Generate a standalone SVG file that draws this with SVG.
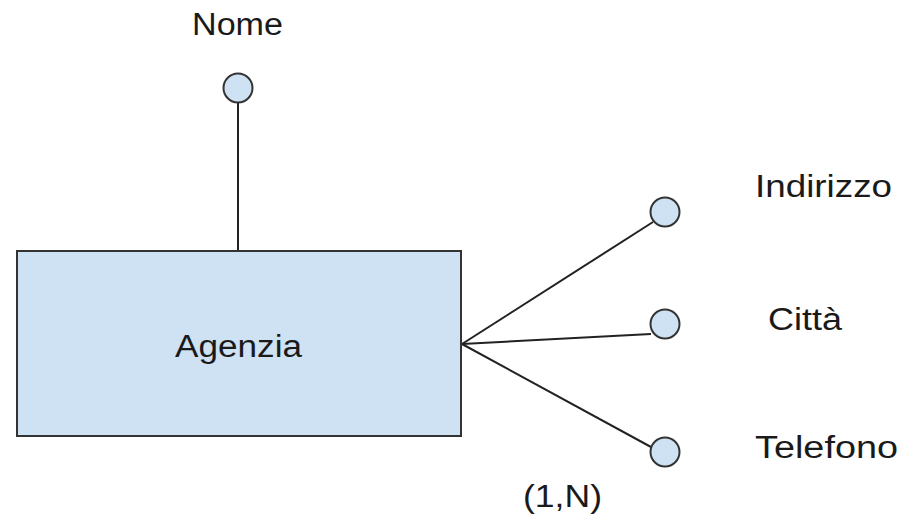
<svg xmlns="http://www.w3.org/2000/svg" width="899" height="521" viewBox="0 0 899 521">
<style>
.lbl{font-family:"Liberation Sans",Arial,sans-serif;font-size:31px;fill:#1a1a1a}
.attr{fill:#cfe2f3;stroke:#333;stroke-width:2}
.ent{fill:#cfe2f3;stroke:#333;stroke-width:2}
.con{stroke:#222;stroke-width:2;fill:none}
</style>
<rect width="899" height="521" fill="#fff"/>
<g id="connectors">
<line class="con" x1="238" y1="103" x2="238" y2="251"/>
<line class="con" x1="462" y1="344" x2="653" y2="222"/>
<line class="con" x1="462" y1="344" x2="651" y2="334"/>
<line class="con" x1="462" y1="344" x2="651" y2="447"/>
</g>
<g id="agenzia">
<rect class="ent" x="17" y="251" width="444" height="185"/>
<text class="lbl" x="175" y="357" textLength="127" lengthAdjust="spacingAndGlyphs">Agenzia</text>
</g>
<g id="nome">
<circle class="attr" cx="238" cy="88" r="14.5"/>
<text class="lbl" x="192" y="35" textLength="91" lengthAdjust="spacingAndGlyphs">Nome</text>
</g>
<g id="indirizzo">
<circle class="attr" cx="665" cy="212" r="14.5"/>
<text class="lbl" x="755" y="197" textLength="137" lengthAdjust="spacingAndGlyphs">Indirizzo</text>
</g>
<g id="citta">
<circle class="attr" cx="665" cy="324" r="14.5"/>
<text class="lbl" x="768" y="330" textLength="74" lengthAdjust="spacingAndGlyphs">Città</text>
</g>
<g id="telefono">
<circle class="attr" cx="665" cy="452" r="14.5"/>
<text class="lbl" x="755" y="458" textLength="143" lengthAdjust="spacingAndGlyphs">Telefono</text>
</g>
<g id="cardinality">
<text class="lbl" x="523" y="507" textLength="79" lengthAdjust="spacingAndGlyphs">(1,N)</text>
</g>
</svg>
